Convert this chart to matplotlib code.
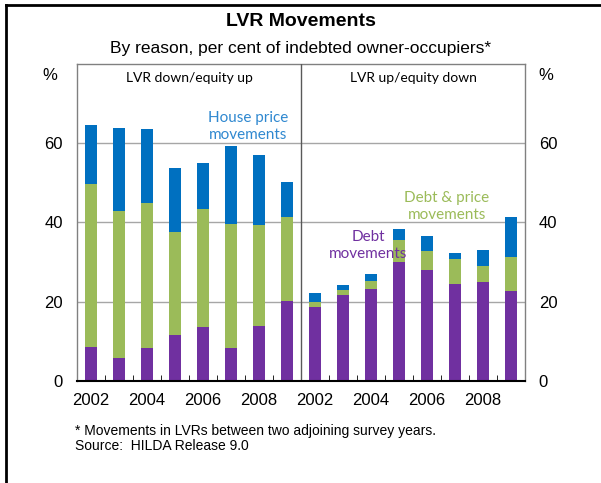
import matplotlib
matplotlib.use("Agg")
import matplotlib.pyplot as plt
from matplotlib.lines import Line2D

plt.rcParams['font.family'] = ['Liberation Sans', 'DejaVu Sans']

years = [2002, 2003, 2004, 2005, 2006, 2007, 2008, 2009]
# LVR down/equity up
down_debt = [8.5, 5.7, 8.4, 11.6, 13.7, 8.4, 13.8, 20.1]
down_both = [41.3, 37.2, 36.6, 25.9, 29.8, 31.3, 25.5, 21.3]
down_price = [14.9, 20.9, 18.6, 16.3, 11.4, 19.5, 17.7, 8.7]
# LVR up/equity down
up_debt = [18.6, 21.6, 23.1, 30.0, 27.9, 24.6, 25.1, 22.6]
up_both = [1.4, 1.4, 2.2, 5.5, 4.8, 6.1, 3.8, 8.8]
up_price = [2.3, 1.1, 1.6, 2.9, 4.0, 1.7, 4.2, 10.0]

year_labels = ['2002', '', '2004', '', '2006', '', '2008', '']

purple = '#7030A0'
green = '#9BBB59'
blue = '#0070C0'

fig = plt.figure(figsize=(6.01, 4.83), dpi=100)
ax = fig.add_axes([0.128, 0.2112, 0.7455, 0.6563])

debt = down_debt + up_debt
both = down_both + up_both
price = down_price + up_price
x = list(range(len(debt)))
w = 0.4

ax.bar(x, debt, w, color=purple, zorder=3)
ax.bar(x, both, w, bottom=debt, color=green, zorder=3)
ax.bar(x, price, w, bottom=[a + b for a, b in zip(debt, both)], color=blue, zorder=3)

ax.set_xlim(-0.5, 15.5)
ax.set_ylim(0, 80)
ax.set_yticks([0, 20, 40, 60])
for yv in [20, 40, 60]:
    ax.axhline(yv, color='#a6a6a6', lw=1, zorder=1)
ax.axvline(7.5, color='#595959', lw=1, zorder=4)

ax.set_xticks(x)
ax.set_xticklabels(year_labels * 2, fontsize=12)
ax.set_xticks([i + 0.5 for i in range(15)], minor=True)
ax.tick_params(axis='x', which='major', length=0, pad=9)
ax.tick_params(axis='x', which='minor', direction='in', length=4, color='black')
ax.tick_params(axis='y', length=0, labelsize=12, pad=10)

for s in ['top', 'left', 'right']:
    ax.spines[s].set_color('#808080')
    ax.spines[s].set_linewidth(1)
ax.spines['bottom'].set_color('black')
ax.spines['bottom'].set_linewidth(1.5)
ax.spines['bottom'].set_zorder(5)

ax2 = ax.twinx()
ax2.set_ylim(0, 80)
ax2.set_yticks([0, 20, 40, 60])
ax2.tick_params(axis='y', length=0, labelsize=12, pad=10)
for s in ax2.spines.values():
    s.set_visible(False)

ax.text(3.5, 76.5, 'LVR down/equity up', ha='center', va='center',
        fontsize=10, family=['Lato', 'DejaVu Sans'])
ax.text(11.5, 76.5, 'LVR up/equity down', ha='center', va='center',
        fontsize=10, family=['Lato', 'DejaVu Sans'])
ax.text(5.6, 64.2, 'House price\nmovements', ha='center', va='center',
        fontsize=11, color='#2F88D0', linespacing=1.25, family=['Lato', 'DejaVu Sans'])
ax.text(12.7, 44.0, 'Debt & price\nmovements', ha='center', va='center',
        fontsize=11, color=green, linespacing=1.25, family=['Lato', 'DejaVu Sans'])
ax.text(9.9, 34.2, 'Debt\nmovements', ha='center', va='center',
        fontsize=11, color=purple, linespacing=1.25, family=['Lato', 'DejaVu Sans'])

fig.text(50 / 601, 1 - 75 / 483, '%', ha='center', va='center', fontsize=12)
fig.text(546 / 601, 1 - 75 / 483, '%', ha='center', va='center', fontsize=12)

fig.text(0.5, 1 - 22 / 483, 'LVR Movements', ha='center', va='center',
         fontsize=14, fontweight='bold')
fig.text(0.5, 1 - 48 / 483, 'By reason, per cent of indebted owner-occupiers*',
         ha='center', va='center', fontsize=12.5)

fig.text(75 / 601, 1 - 431 / 483, '* Movements in LVRs between two adjoining survey years.',
         ha='left', va='center', fontsize=10)
fig.text(75 / 601, 1 - 446 / 483, 'Source:  HILDA Release 9.0',
         ha='left', va='center', fontsize=10)

# frame lines (top and left)
fig.add_artist(Line2D([6 / 601, 1], [1 - 5 / 483] * 2, color='black', lw=2))
fig.add_artist(Line2D([6 / 601] * 2, [0, 1 - 5 / 483], color='black', lw=2))

fig.savefig('out.png', dpi=100)
